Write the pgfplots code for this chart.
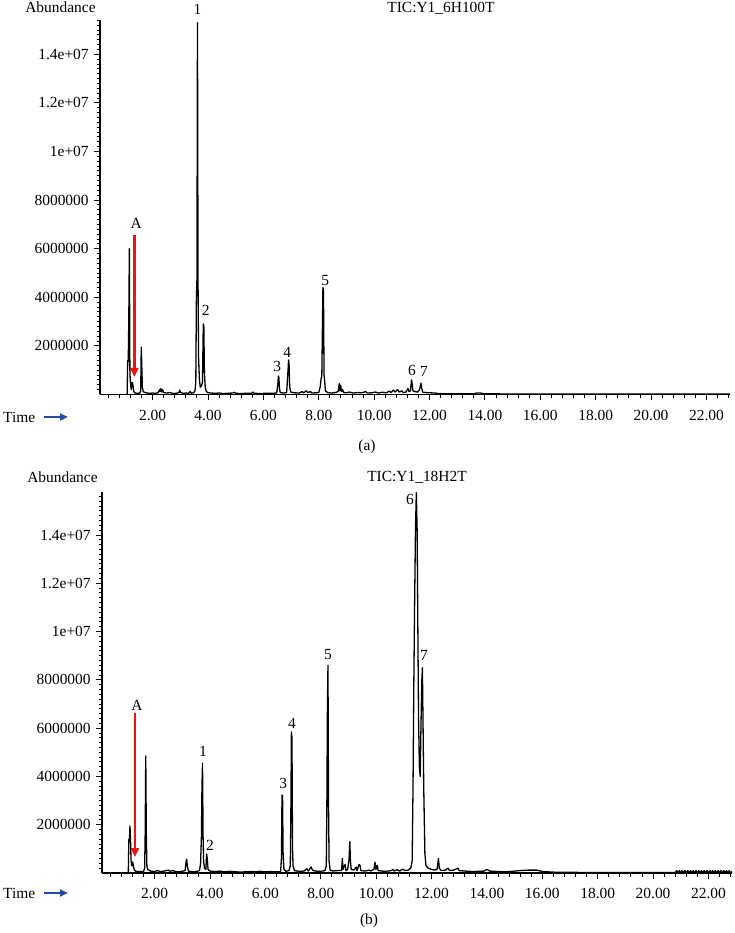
\documentclass[border=0pt]{standalone}
\usepackage{fontspec}
\setmainfont{Liberation Serif}
\usepackage{pgfplots}
\pgfplotsset{compat=1.18}
\usetikzlibrary{arrows.meta}
\definecolor{timeblue}{RGB}{35,75,160}
\definecolor{arrowred}{RGB}{235,20,20}
\pgfplotsset{
  chrom/.style={
    scale only axis,
    width=630bp,
    xmin=0.1, xmax=22.85, ymin=0,
    axis x line=bottom, axis y line=left,
    axis line style={-},
    x axis line style={line width=1.8bp},
    y axis line style={line width=1.2bp},
    tick align=outside,
    major tick length=6bp, minor tick length=3.5bp,
    every tick/.style={black, line width=0.9bp},
    xtick={2,4,6,8,10,12,14,16,18,20,22},
    minor xtick={0.4,0.8,1.2,1.6,2.4,2.8,3.2,3.6,4.4,4.8,5.2,5.6,6.4,6.8,7.2,7.6,8.4,8.8,9.2,9.6,10.4,10.8,11.2,11.6,12.4,12.8,13.2,13.6,14.4,14.8,15.2,15.6,16.4,16.8,17.2,17.6,18.4,18.8,19.2,19.6,20.4,20.8,21.2,21.6,22.4,22.8},
    ytick={2,4,6,8,10,12,14},
    yticklabels={2000000,4000000,6000000,8000000,1e+07,1.2e+07,1.4e+07},
    minor ytick={0.2,0.4,...,15.6},
    xticklabel style={/pgf/number format/.cd, fixed, fixed zerofill, precision=2, /tikz/.cd, yshift=-4bp},
    /pgf/number format/assume math mode=true,
    clip=false,
    trace/.style={black, line width=1.3bp, line join=round, mark=none},
    every node/.append style={font=\fontsize{15.5}{18}\selectfont},
  }
}
\begin{document}
\fontsize{15.5}{18}\selectfont
\begin{tikzpicture}
\useasboundingbox (0,0) rectangle (735bp,933bp);
% ---------------- panel (a) ----------------
\begin{axis}[chrom, at={(100bp,538.5bp)}, anchor=south west, height=374.5bp, ymax=15.41]
\addplot[trace] coordinates {
(1.08,0.02)(1.10,1.4)(1.12,1.35)(1.14,3.1)(1.16,6.0)(1.18,0.9)(1.20,0.45)(1.23,0.2)
(1.26,0.5)(1.28,0.45)(1.30,0.3)(1.32,0.12)(1.36,0.06)(1.45,0.05)(1.54,0.06)(1.57,0.15)
(1.59,1.95)(1.61,1.15)(1.63,0.3)(1.66,0.12)(1.72,0.08)(1.80,0.06)(1.90,0.05)(2.00,0.06)
(2.10,0.05)(2.20,0.07)(2.25,0.2)(2.27,0.12)(2.30,0.24)(2.33,0.1)(2.36,0.2)(2.40,0.08)
(2.50,0.06)(2.62,0.08)(2.75,0.04)(2.85,0.05)(2.95,0.08)(2.98,0.18)(3.01,0.08)(3.10,0.05)
(3.20,0.06)(3.30,0.05)(3.36,0.12)(3.39,0.05)(3.48,0.07)(3.53,0.15)(3.56,0.5)(3.58,3.8)
(3.60,4.7)(3.62,15.3)(3.64,4.7)(3.66,1.5)(3.69,0.6)(3.72,0.3)(3.76,0.35)(3.80,0.5)
(3.83,2.9)(3.85,2.8)(3.87,0.9)(3.90,0.3)(3.94,0.12)(4.00,0.08)(4.10,0.06)(4.25,0.05)
(4.40,0.06)(4.55,0.04)(4.70,0.05)(4.90,0.06)(4.95,0.09)(5.00,0.05)(5.20,0.04)(5.40,0.05)
(5.58,0.05)(5.62,0.1)(5.66,0.05)(5.90,0.04)(6.10,0.05)(6.30,0.05)(6.48,0.06)(6.52,0.4)
(6.54,0.76)(6.56,0.7)(6.58,0.25)(6.61,0.08)(6.72,0.06)(6.84,0.08)(6.88,0.8)(6.91,1.42)
(6.93,1.2)(6.95,0.3)(6.99,0.1)(7.10,0.07)(7.30,0.06)(7.40,0.12)(7.45,0.07)(7.55,0.15)
(7.60,0.08)(7.70,0.12)(7.75,0.06)(7.90,0.07)(8.00,0.08)(8.05,0.3)(8.09,0.7)(8.11,0.75)
(8.15,4.4)(8.17,4.3)(8.19,0.8)(8.21,0.6)(8.24,0.15)(8.32,0.08)(8.45,0.06)(8.60,0.08)
(8.70,0.12)(8.74,0.45)(8.76,0.15)(8.79,0.38)(8.82,0.12)(8.86,0.2)(8.90,0.08)(9.00,0.07)
(9.10,0.1)(9.25,0.06)(9.40,0.08)(9.55,0.07)(9.70,0.12)(9.75,0.06)(9.90,0.07)(10.05,0.1)
(10.15,0.06)(10.30,0.09)(10.45,0.07)(10.55,0.14)(10.60,0.08)(10.70,0.18)(10.75,0.1)(10.85,0.2)
(10.90,0.1)(11.00,0.15)(11.05,0.08)(11.15,0.1)(11.22,0.25)(11.26,0.12)(11.31,0.15)(11.35,0.6)
(11.37,0.45)(11.40,0.15)(11.47,0.12)(11.57,0.1)(11.64,0.2)(11.69,0.47)(11.71,0.3)(11.75,0.1)
(11.85,0.08)(12.00,0.07)(12.20,0.06)(12.30,0.04)(12.50,0.03)(13.00,0.03)(13.60,0.03)(13.70,0.06)
(13.85,0.06)(13.95,0.03)(15.00,0.02)(17.00,0.02)(20.00,0.02)(22.85,0.02)
};
\node at (axis cs:3.62,15.86) {1};
\node at (axis cs:3.92,3.48) {2};
\node at (axis cs:6.50,1.17) {3};
\node at (axis cs:6.86,1.75) {4};
\node at (axis cs:8.23,4.71) {5};
\node at (axis cs:11.37,0.97) {6};
\node at (axis cs:11.80,0.93) {7};
\node at (axis cs:1.41,7.06) {A};
\draw[arrowred, line width=2.8bp, -{Triangle[width=8bp,length=9bp]}] (axis cs:1.34,6.56) -- (axis cs:1.34,0.72);
\end{axis}
\node[anchor=east] at (101bp,926bp) {Abundance};
\node at (441bp,925bp) {TIC:Y1\_6H100T};
\node[anchor=west, inner sep=0pt] at (3bp,516bp) {Time};
\draw[timeblue, line width=2.2bp, -{Triangle[width=7bp,length=8bp]}] (44bp,516bp) -- (68bp,516bp);
\node at (367bp,486bp) {(a)};
% ---------------- panel (b) ----------------
\begin{axis}[chrom, at={(102bp,60bp)}, anchor=south west, height=381bp, ymax=15.78]
\addplot[trace] coordinates {
(1.05,0.02)(1.07,1.4)(1.09,1.3)(1.11,1.95)(1.13,1.4)(1.15,0.5)(1.18,0.3)(1.21,0.45)
(1.24,0.25)(1.27,0.12)(1.32,0.07)(1.45,0.06)(1.60,0.06)(1.64,0.2)(1.66,1.7)(1.68,4.85)
(1.70,1.7)(1.72,0.3)(1.75,0.15)(1.85,0.08)(2.00,0.06)(2.10,0.1)(2.20,0.06)(2.35,0.08)
(2.50,0.12)(2.55,0.07)(2.65,0.1)(2.80,0.05)(2.95,0.06)(3.10,0.1)(3.14,0.5)(3.16,0.58)
(3.18,0.3)(3.22,0.08)(3.35,0.05)(3.50,0.06)(3.62,0.1)(3.66,0.4)(3.69,1.5)(3.71,3.6)
(3.73,4.55)(3.75,1.5)(3.77,0.5)(3.80,0.2)(3.85,0.15)(3.88,0.79)(3.90,0.6)(3.93,0.15)
(4.00,0.08)(4.20,0.06)(4.35,0.08)(4.50,0.05)(4.70,0.07)(4.90,0.05)(5.10,0.04)(5.30,0.05)
(5.50,0.06)(5.65,0.05)(5.80,0.07)(6.00,0.05)(6.20,0.06)(6.40,0.05)(6.55,0.06)(6.58,0.6)
(6.60,3.23)(6.62,3.2)(6.64,0.8)(6.67,0.15)(6.75,0.07)(6.85,0.1)(6.90,0.3)(6.92,2.5)
(6.94,5.84)(6.96,5.6)(6.98,1.0)(7.00,0.3)(7.05,0.1)(7.20,0.07)(7.40,0.08)(7.50,0.18)
(7.55,0.08)(7.65,0.25)(7.70,0.12)(7.80,0.08)(8.00,0.07)(8.15,0.1)(8.20,0.3)(8.22,2.8)
(8.24,6.8)(8.26,8.6)(8.28,2.8)(8.30,0.5)(8.34,0.12)(8.45,0.08)(8.60,0.1)(8.75,0.1)
(8.78,0.6)(8.80,0.15)(8.85,0.3)(8.88,0.35)(8.91,0.1)(8.97,0.15)(9.02,0.55)(9.05,1.3)
(9.07,0.5)(9.10,0.15)(9.20,0.12)(9.28,0.25)(9.31,0.1)(9.38,0.35)(9.42,0.3)(9.45,0.1)
(9.60,0.08)(9.75,0.12)(9.80,0.08)(9.92,0.15)(9.96,0.45)(9.99,0.15)(10.04,0.32)(10.07,0.1)
(10.20,0.08)(10.35,0.07)(10.55,0.1)(10.60,0.15)(10.65,0.08)(10.75,0.14)(10.85,0.08)(10.95,0.16)
(11.05,0.1)(11.15,0.12)(11.25,0.2)(11.30,0.5)(11.33,3.4)(11.36,7.8)(11.39,11.3)(11.42,14.2)
(11.45,15.75)(11.48,14.2)(11.50,11.0)(11.53,6.5)(11.56,4.4)(11.59,4.0)(11.62,6.2)(11.65,8.0)
(11.67,8.5)(11.69,6.5)(11.72,3.4)(11.76,0.8)(11.80,0.3)(11.88,0.2)(12.00,0.15)(12.10,0.12)
(12.20,0.15)(12.25,0.6)(12.28,0.2)(12.35,0.1)(12.50,0.12)(12.60,0.2)(12.65,0.1)(12.80,0.12)
(12.95,0.2)(13.00,0.1)(13.20,0.08)(13.50,0.06)(13.90,0.08)(14.00,0.15)(14.10,0.08)(14.40,0.06)
(14.70,0.05)(15.00,0.08)(15.20,0.1)(15.50,0.12)(15.80,0.12)(16.00,0.06)(16.50,0.03)(18.00,0.02)
(20.80,0.02)(20.85,0.1)(20.90,0.0)(20.95,0.1)(21.00,0.0)(21.05,0.1)(21.10,0.0)(21.15,0.1)
(21.20,0.0)(21.25,0.1)(21.30,0.0)(21.35,0.1)(21.40,0.0)(21.45,0.1)(21.50,0.0)(21.55,0.1)
(21.60,0.0)(21.65,0.1)(21.70,0.0)(21.75,0.1)(21.80,0.0)(21.85,0.1)(21.90,0.0)(21.95,0.1)
(22.00,0.0)(22.05,0.1)(22.10,0.0)(22.15,0.1)(22.20,0.0)(22.25,0.1)(22.30,0.0)(22.35,0.1)
(22.40,0.0)(22.45,0.1)(22.50,0.0)(22.55,0.1)(22.60,0.0)(22.65,0.1)(22.70,0.0)(22.75,0.1)
(22.80,0.0)(22.85,0.06)
};
\node at (axis cs:1.36,6.96) {A};
\draw[arrowred, line width=2.8bp, -{Triangle[width=8bp,length=9bp]}] (axis cs:1.29,6.63) -- (axis cs:1.29,0.66);
\node at (axis cs:3.75,5.05) {1};
\node at (axis cs:4.00,1.16) {2};
\node at (axis cs:6.64,3.69) {3};
\node at (axis cs:6.96,6.21) {4};
\node at (axis cs:8.26,9.03) {5};
\node at (axis cs:11.22,15.49) {6};
\node at (axis cs:11.73,8.99) {7};
\end{axis}
\node[anchor=east] at (103bp,456bp) {Abundance};
\node at (417bp,456bp) {TIC:Y1\_18H2T};
\node[anchor=west, inner sep=0pt] at (3bp,40bp) {Time};
\draw[timeblue, line width=2.2bp, -{Triangle[width=7bp,length=8bp]}] (44bp,40bp) -- (68bp,40bp);
\node at (369bp,12bp) {(b)};
\end{tikzpicture}
\end{document}
